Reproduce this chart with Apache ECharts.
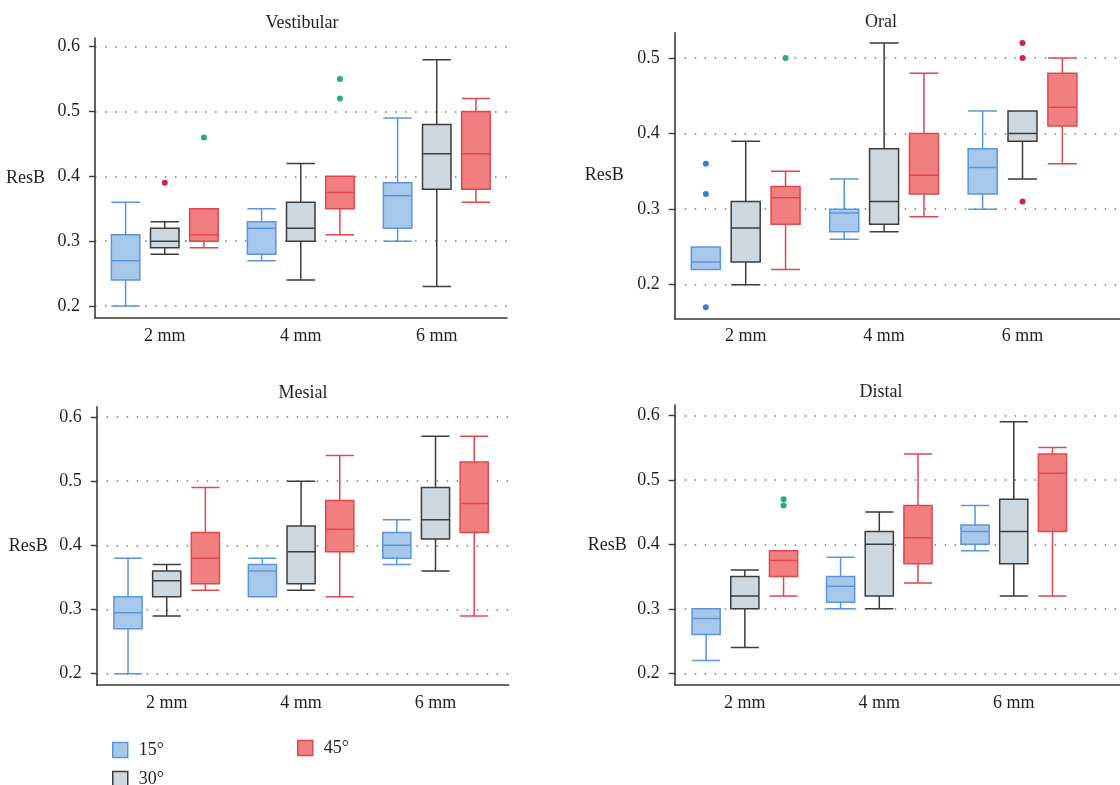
<!DOCTYPE html>
<html>
<head>
<meta charset="utf-8">
<title>ResB by depth and angle</title>
<script src="https://cdn.jsdelivr.net/npm/echarts@6.0.0/dist/echarts.min.js"></script>
<style>
  html, body { margin: 0; padding: 0; background: #fff; }
  #chart { width: 1120px; height: 785px; }
</style>
</head>
<body>
<div id="chart"></div>
<script>
// categories and groups
const categories = ['2 mm', '4 mm', '6 mm'];
const groups = ['15°', '30°', '45°'];

// y tick labels per panel
const vestibularTicks = [0.2, 0.3, 0.4, 0.5, 0.6];
const oralTicks = [0.2, 0.3, 0.4, 0.5];
const mesialTicks = [0.2, 0.3, 0.4, 0.5, 0.6];
const distalTicks = [0.2, 0.3, 0.4, 0.5, 0.6];

// box values: [min, Q1, median, Q3, max] for 2 / 4 / 6 mm
const vestibular15 = [[0.20, 0.24, 0.27, 0.31, 0.36], [0.27, 0.28, 0.32, 0.33, 0.35], [0.30, 0.32, 0.37, 0.39, 0.49]];
const vestibular30 = [[0.28, 0.29, 0.30, 0.32, 0.33], [0.24, 0.30, 0.32, 0.36, 0.42], [0.23, 0.38, 0.435, 0.48, 0.58]];
const vestibular45 = [[0.29, 0.30, 0.31, 0.35, 0.35], [0.31, 0.35, 0.375, 0.40, 0.40], [0.36, 0.38, 0.435, 0.50, 0.52]];
const vestibularOut15 = [];
const vestibularOut30 = [['2 mm', 0.39]];
const vestibularOut45 = [['2 mm', 0.46], ['4 mm', 0.55], ['4 mm', 0.52]];

const oral15 = [[0.22, 0.22, 0.23, 0.25, 0.25], [0.26, 0.27, 0.295, 0.30, 0.34], [0.30, 0.32, 0.355, 0.38, 0.43]];
const oral30 = [[0.20, 0.23, 0.275, 0.31, 0.39], [0.27, 0.28, 0.31, 0.38, 0.52], [0.34, 0.39, 0.40, 0.43, 0.43]];
const oral45 = [[0.22, 0.28, 0.315, 0.33, 0.35], [0.29, 0.32, 0.345, 0.40, 0.48], [0.36, 0.41, 0.435, 0.48, 0.50]];
const oralOut15 = [['2 mm', 0.36], ['2 mm', 0.32], ['2 mm', 0.17]];
const oralOut30 = [['6 mm', 0.52], ['6 mm', 0.50], ['6 mm', 0.31]];
const oralOut45 = [['2 mm', 0.50]];

const mesial15 = [[0.20, 0.27, 0.295, 0.32, 0.38], [0.32, 0.32, 0.36, 0.37, 0.38], [0.37, 0.38, 0.40, 0.42, 0.44]];
const mesial30 = [[0.29, 0.32, 0.345, 0.36, 0.37], [0.33, 0.34, 0.39, 0.43, 0.50], [0.36, 0.41, 0.44, 0.49, 0.57]];
const mesial45 = [[0.33, 0.34, 0.38, 0.42, 0.49], [0.32, 0.39, 0.425, 0.47, 0.54], [0.29, 0.42, 0.465, 0.53, 0.57]];
const mesialOut15 = [];
const mesialOut30 = [];
const mesialOut45 = [];

const distal15 = [[0.22, 0.26, 0.285, 0.30, 0.30], [0.30, 0.31, 0.335, 0.35, 0.38], [0.39, 0.40, 0.42, 0.43, 0.46]];
const distal30 = [[0.24, 0.30, 0.32, 0.35, 0.36], [0.30, 0.32, 0.40, 0.42, 0.45], [0.32, 0.37, 0.42, 0.47, 0.59]];
const distal45 = [[0.32, 0.35, 0.375, 0.39, 0.39], [0.34, 0.37, 0.41, 0.46, 0.54], [0.32, 0.42, 0.51, 0.54, 0.55]];
const distalOut15 = [];
const distalOut30 = [];
const distalOut45 = [['2 mm', 0.47], ['2 mm', 0.46]];

const FONT = 'Liberation Serif';
const TEXT = '#231f20';
const AXIS = '#3a3a3a';

const fills = ['#a7c8eb', '#cdd7df', '#f17f7f'];
const borders = ['#5b95da', '#3d3d3d', '#e0474f'];
const dotColors = ['#3a7bd5', '#c8235a', '#22b070'];

// layout of each panel (frame = axes box, plot = category band area)
const panels = [
  { title: 'Vestibular', titleX: 302, titleY: 23, ticks: vestibularTicks, min: 0.1815, max: 0.6134,
    frame: { left: 95, top: 38, width: 412, height: 280 }, plotLeft: 96.75, plotWidth: 408, nameGap: 50,
    boxes: [vestibular15, vestibular30, vestibular45], outs: [vestibularOut15, vestibularOut30, vestibularOut45] },
  { title: 'Oral', titleX: 881, titleY: 22, ticks: oralTicks, min: 0.155, max: 0.5335,
    frame: { left: 674.7, top: 32.7, width: 460, height: 286 }, plotLeft: 676.5, plotWidth: 415.2, nameGap: 51,
    boxes: [oral15, oral30, oral45], outs: [oralOut15, oralOut30, oralOut45] },
  { title: 'Mesial', titleX: 303, titleY: 393, ticks: mesialTicks, min: 0.1824, max: 0.616,
    frame: { left: 96.7, top: 406.7, width: 412, height: 278.3 }, plotLeft: 99.5, plotWidth: 403.2, nameGap: 49,
    boxes: [mesial15, mesial30, mesial45], outs: [mesialOut15, mesialOut30, mesialOut45] },
  { title: 'Distal', titleX: 881, titleY: 392, ticks: distalTicks, min: 0.1819, max: 0.616,
    frame: { left: 674.7, top: 405, width: 460, height: 280 }, plotLeft: 677.6, plotWidth: 403.4, nameGap: 48,
    boxes: [distal15, distal30, distal45], outs: [distalOut15, distalOut30, distalOut45] },
];

const grid = [];
const xAxis = [];
const yAxis = [];
const series = [];
const graphic = [];

panels.forEach(function (p, i) {
  const fi = i * 2;
  const di = i * 2 + 1;
  grid.push({ left: p.frame.left, top: p.frame.top, width: p.frame.width, height: p.frame.height,
    containLabel: false, outerBoundsMode: 'none' });
  grid.push({ left: p.plotLeft, top: p.frame.top, width: p.plotWidth, height: p.frame.height,
    containLabel: false, outerBoundsMode: 'none' });

  // frame axes: lines, y ticks, labels, dotted grid
  xAxis.push({
    gridIndex: fi, type: 'category', data: categories,
    axisLine: { show: true, lineStyle: { color: AXIS, width: 1.6 } },
    axisTick: { show: false }, axisLabel: { show: false }, splitLine: { show: false }
  });
  yAxis.push({
    gridIndex: fi, type: 'value', min: p.min, max: p.max,
    name: 'ResB', nameLocation: 'middle', nameRotate: 0, nameGap: p.nameGap,
    nameTextStyle: { fontFamily: FONT, fontSize: 18, color: TEXT },
    axisLine: { show: true, lineStyle: { color: AXIS, width: 1.6 } },
    axisTick: { show: true, length: 6, customValues: p.ticks, lineStyle: { color: AXIS, width: 1.4 } },
    axisLabel: { customValues: p.ticks, margin: 15, fontFamily: FONT, fontSize: 18, color: TEXT,
      formatter: function (v) { return v.toFixed(1); } },
    splitLine: { show: true, showMinLine: true, showMaxLine: true,
      lineStyle: { color: '#7a7a7a', width: 1.5, type: [1.5, 8.5] } }
  });

  // data axes
  xAxis.push({
    gridIndex: di, type: 'category', data: categories,
    axisLine: { show: false }, axisTick: { show: false },
    axisLabel: { margin: 9, fontFamily: FONT, fontSize: 18, color: TEXT },
    splitLine: { show: false }
  });
  yAxis.push({ gridIndex: di, type: 'value', min: p.min, max: p.max, show: false, splitLine: { show: false } });

  // same spacing the boxplot layout uses for three side-by-side series
  const band = p.plotWidth / categories.length;
  const avail = band * 0.8 - 2;
  const step = avail * 0.1 + (avail - 2 * avail * 0.1) / 3;

  groups.forEach(function (g, k) {
    series.push({
      name: g, type: 'boxplot', xAxisIndex: di, yAxisIndex: di,
      data: p.boxes[k],
      itemStyle: { color: fills[k], borderColor: borders[k], borderWidth: 1.5 },
      emphasis: { disabled: true }
    });
  });
  groups.forEach(function (g, k) {
    if (!p.outs[k].length) return;
    series.push({
      name: g, type: 'scatter', xAxisIndex: di, yAxisIndex: di,
      data: p.outs[k], symbolSize: 6, symbolOffset: [(k - 1) * step, 0],
      itemStyle: { color: dotColors[k], opacity: 1 }, z: 3
    });
  });

  graphic.push({
    type: 'text', x: p.titleX, y: p.titleY,
    style: { text: p.title, fontFamily: FONT, fontSize: 18, fill: TEXT,
      textAlign: 'center', textVerticalAlign: 'middle' }
  });
});

function legendOf(k, left, top) {
  return {
    left: left, top: top, padding: 0, icon: 'rect', itemWidth: 15, itemHeight: 15,
    selectedMode: false,
    textStyle: { fontFamily: FONT, fontSize: 18, color: TEXT, padding: [0, 0, 0, 6] },
    data: [{ name: groups[k], itemStyle: { color: fills[k], borderColor: borders[k], borderWidth: 1.5 } }]
  };
}

const chart = echarts.init(document.getElementById('chart'));
chart.setOption({
  animation: false,
  backgroundColor: '#fff',
  grid: grid,
  xAxis: xAxis,
  yAxis: yAxis,
  legend: [legendOf(0, 112, 741), legendOf(1, 112, 770), legendOf(2, 297, 739)],
  graphic: graphic,
  series: series
});
</script>
</body>
</html>
